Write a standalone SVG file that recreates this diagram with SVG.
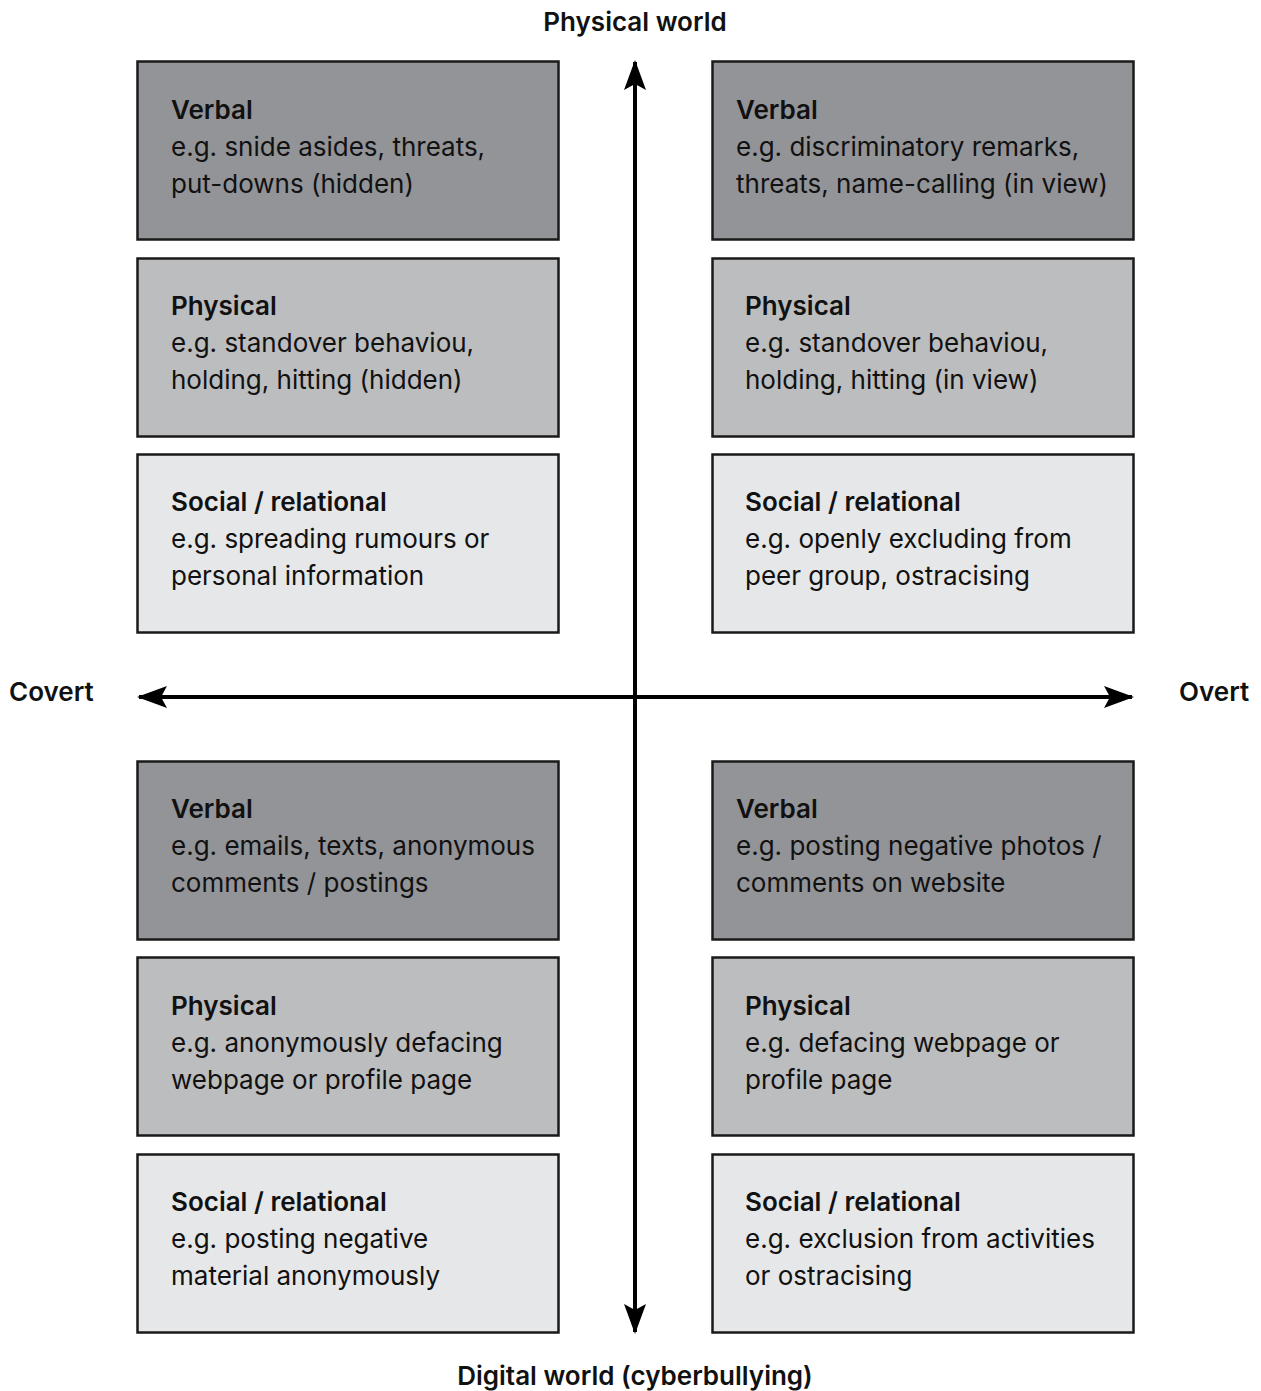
<svg xmlns="http://www.w3.org/2000/svg" width="1261" height="1391" viewBox="0 0 1261 1391">
<defs>
<style>
.box{stroke:#1a1a1a;stroke-width:2.5}
.d{fill:#939498}.m{fill:#bcbdbf}.l{fill:#e6e7e8}
text{font-family:Inter,"Noto Sans","Liberation Sans",sans-serif;fill:#111;font-size:26px}
.t{font-weight:600}
.ax{font-weight:600;font-size:26px}
.ln{stroke:#000;stroke-width:4;fill:none}
</style>
<marker id="ah" viewBox="0 0 30 22" refX="28" refY="11" markerWidth="30" markerHeight="22" markerUnits="userSpaceOnUse" orient="auto">
<path d="M0,0 L30,11 L0,22 L6,11 Z" fill="#000"/>
</marker>
</defs>
<g id="connectors">
<line class="ln" x1="635" y1="690" x2="635" y2="62" marker-end="url(#ah)"/>
<line class="ln" x1="635" y1="690" x2="635" y2="1332" marker-end="url(#ah)"/>
<line class="ln" x1="640" y1="697" x2="139" y2="697" marker-end="url(#ah)"/>
<line class="ln" x1="630" y1="697" x2="1132" y2="697" marker-end="url(#ah)"/>
</g>
<g id="label-top"><text class="ax" x="635" y="31" text-anchor="middle">Physical world</text></g>
<g id="label-bottom"><text class="ax" x="635" y="1385" text-anchor="middle">Digital world (cyberbullying)</text></g>
<g id="label-left"><text class="ax" x="9" y="701">Covert</text></g>
<g id="label-right"><text class="ax" x="1179" y="701">Overt</text></g>

<g id="tl-verbal"><rect class="box d" x="137.5" y="61.5" width="421" height="178"/>
<text class="t" x="171" y="119">Verbal</text><text x="171" y="156">e.g. snide asides, threats,</text><text x="171" y="193">put-downs (hidden)</text></g>
<g id="tl-physical"><rect class="box m" x="137.5" y="258.5" width="421" height="178"/>
<text class="t" x="171" y="315">Physical</text><text x="171" y="352">e.g. standover behaviou,</text><text x="171" y="389">holding, hitting (hidden)</text></g>
<g id="tl-social"><rect class="box l" x="137.5" y="454.5" width="421" height="178"/>
<text class="t" x="171" y="511">Social / relational</text><text x="171" y="548">e.g. spreading rumours or</text><text x="171" y="585">personal information</text></g>

<g id="tr-verbal"><rect class="box d" x="712.5" y="61.5" width="421" height="178"/>
<text class="t" x="736" y="119">Verbal</text><text x="736" y="156">e.g. discriminatory remarks,</text><text x="736" y="193">threats, name-calling (in view)</text></g>
<g id="tr-physical"><rect class="box m" x="712.5" y="258.5" width="421" height="178"/>
<text class="t" x="745" y="315">Physical</text><text x="745" y="352">e.g. standover behaviou,</text><text x="745" y="389">holding, hitting (in view)</text></g>
<g id="tr-social"><rect class="box l" x="712.5" y="454.5" width="421" height="178"/>
<text class="t" x="745" y="511">Social / relational</text><text x="745" y="548">e.g. openly excluding from</text><text x="745" y="585">peer group, ostracising</text></g>

<g id="bl-verbal"><rect class="box d" x="137.5" y="761.5" width="421" height="178"/>
<text class="t" x="171" y="818">Verbal</text><text x="171" y="855">e.g. emails, texts, anonymous</text><text x="171" y="892">comments / postings</text></g>
<g id="bl-physical"><rect class="box m" x="137.5" y="957.5" width="421" height="178"/>
<text class="t" x="171" y="1015">Physical</text><text x="171" y="1052">e.g. anonymously defacing</text><text x="171" y="1089">webpage or profile page</text></g>
<g id="bl-social"><rect class="box l" x="137.5" y="1154.5" width="421" height="178"/>
<text class="t" x="171" y="1211">Social / relational</text><text x="171" y="1248">e.g. posting negative</text><text x="171" y="1285">material anonymously</text></g>

<g id="br-verbal"><rect class="box d" x="712.5" y="761.5" width="421" height="178"/>
<text class="t" x="736" y="818">Verbal</text><text x="736" y="855">e.g. posting negative photos /</text><text x="736" y="892">comments on website</text></g>
<g id="br-physical"><rect class="box m" x="712.5" y="957.5" width="421" height="178"/>
<text class="t" x="745" y="1015">Physical</text><text x="745" y="1052">e.g. defacing webpage or</text><text x="745" y="1089">profile page</text></g>
<g id="br-social"><rect class="box l" x="712.5" y="1154.5" width="421" height="178"/>
<text class="t" x="745" y="1211">Social / relational</text><text x="745" y="1248">e.g. exclusion from activities</text><text x="745" y="1285">or ostracising</text></g>
</svg>
